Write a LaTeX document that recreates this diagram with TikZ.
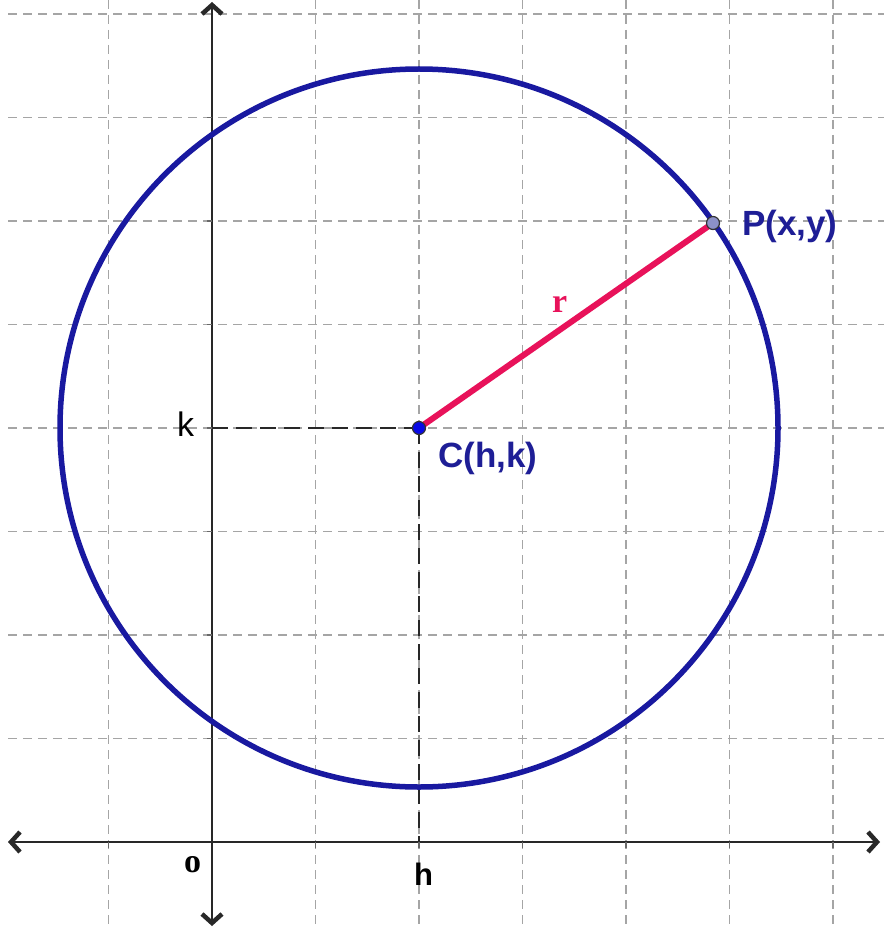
\documentclass[tikz,border=0pt]{standalone}
\usepackage{fontspec}
\setmainfont{Liberation Sans}
\newfontfamily\serifb{Liberation Serif}
\usetikzlibrary{arrows.meta}
\definecolor{circblue}{RGB}{25,25,160}
\definecolor{labblue}{RGB}{30,30,150}
\definecolor{radred}{RGB}{232,18,90}
\definecolor{gridgray}{RGB}{165,165,165}
\definecolor{axisgray}{RGB}{40,40,40}
\definecolor{cfill}{RGB}{10,10,230}
\definecolor{pfill}{RGB}{140,145,200}
\tikzset{
  gridline/.style={gridgray,line width=1.6pt,dash pattern=on 9pt off 6pt},
  axisline/.style={axisgray,line width=2pt,
    {Straight Barb[length=9pt,width=20pt,line width=4.5pt]}-{Straight Barb[length=9pt,width=20pt,line width=4.5pt]}},
  tickline/.style={axisgray!70,line width=1.6pt},
  helper/.style={axisgray,line width=1.6pt,dash pattern=on 16pt off 8pt},
  ptlabel/.style={labblue,inner sep=0pt,anchor=base west,font=\fontsize{35}{40}\selectfont\bfseries},
  axlabel/.style={black,inner sep=0pt,anchor=base west},
  pointdot/.style={circle,draw=black!80,line width=1.2pt,minimum size=13pt,inner sep=0pt}
}
\begin{document}
\begin{tikzpicture}[x=1pt,y=-1pt]
\useasboundingbox (0,0) rectangle (884,928);
\fill[white] (0,0) rectangle (884,928);
% grid
\foreach \x in {108.5,315.5,419,522.5,626,729.5,833}
  \draw[gridline] (\x,0) -- (\x,928);
\foreach \y in {14,117.5,221,324.5,428,531.5,635,738.5}
  \draw[gridline] (8,\y) -- (884,\y);
% named points
\coordinate (O) at (212,842);
\coordinate (C) at (419,428);
\coordinate (P) at (713,223);
\coordinate (K) at (212,428);
\coordinate (H) at (419,842);
\coordinate (XL) at (8,842);
\coordinate (XR) at (880,842);
\coordinate (YT) at (212,2);
\coordinate (YB) at (212,926);
% axes
\draw[axisline] (XL) -- (XR);
\draw[axisline] (YB) -- (YT);
\foreach \x in {108.5,315.5,419,522.5,626,729.5,833}
  \draw[tickline] (\x,842) -- (\x,848);
\foreach \y in {117.5,221,324.5,428,531.5,635,738.5}
  \draw[tickline] (207,\y) -- (212,\y);
% helper dashed lines
\draw[helper] (K) -- (C);
\draw[helper] (C) -- (H);
% circle
\draw[circblue,line width=5.5pt] (C) circle[radius=359];
% radius
\draw[radred,line width=6pt] (C) -- (P);
% points
\node[pointdot,fill=cfill] (Cdot) at (C) {};
\node[pointdot,fill=pfill] (Pdot) at (P) {};
% labels
\node[ptlabel] (Plab) at (742,235) {P(x,y)};
\node[ptlabel] (Clab) at (438,467) {C(h,k)};
\node[axlabel,font=\fontsize{34}{40}\selectfont] (klab) at (177,436) {k};
\node[axlabel,font=\fontsize{34}{40}\selectfont\serifb\bfseries] (olab) at (184,872) {o};
\node[axlabel,font=\fontsize{31}{40}\selectfont\bfseries] (hlab) at (414,885) {h};
\node[axlabel,radred,font=\fontsize{34}{40}\selectfont\serifb\bfseries] (rlab) at (552,312) {r};
\end{tikzpicture}
\end{document}
